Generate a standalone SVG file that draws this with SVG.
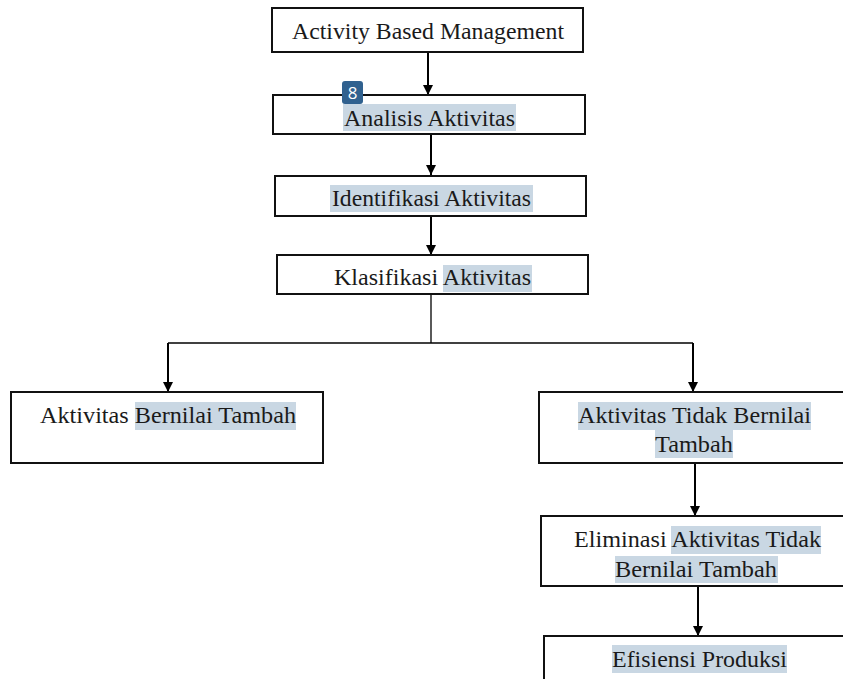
<svg xmlns="http://www.w3.org/2000/svg" width="843" height="679" viewBox="0 0 843 679">
<defs>
<marker id="ah" markerWidth="12" markerHeight="12" refX="10" refY="5" orient="auto" markerUnits="userSpaceOnUse">
<path d="M0,0 L10,5 L0,10 Z" fill="#000"/>
</marker>
<style>
.box{fill:#fff;stroke:#111;stroke-width:2}
.t{font-family:"Liberation Serif","Times New Roman",serif;font-size:23px;fill:#1a1a1a}
.hl{fill:#c9d7e3}
.ln{stroke:#000;stroke-width:2;fill:none}
</style>
</defs>
<rect width="843" height="679" fill="#fff"/>
<g id="connectors">
<line class="ln" x1="428" y1="52" x2="428" y2="95" marker-end="url(#ah)"/>
<line class="ln" x1="431" y1="134" x2="431" y2="175" marker-end="url(#ah)"/>
<line class="ln" x1="431" y1="216" x2="431" y2="255" marker-end="url(#ah)"/>
<line x1="431" y1="294" x2="431" y2="343" stroke="#000" stroke-width="1.3"/>
<line x1="168" y1="343" x2="693" y2="343" stroke="#000" stroke-width="1.5"/>
<line class="ln" x1="168" y1="343" x2="168" y2="392" marker-end="url(#ah)"/>
<line class="ln" x1="693" y1="343" x2="693" y2="392" marker-end="url(#ah)"/>
<line class="ln" x1="695" y1="463" x2="695" y2="516" marker-end="url(#ah)"/>
<line class="ln" x1="698" y1="586" x2="698" y2="636" marker-end="url(#ah)"/>
</g>
<g id="n1">
<rect class="box" x="272" y="8" width="311" height="44"/>
<text class="t" x="292" y="39" textLength="272" lengthAdjust="spacingAndGlyphs">Activity Based Management</text>
</g>
<g id="n2">
<rect class="box" x="273" y="95" width="312" height="39"/>
<rect class="hl" x="343" y="104" width="173" height="27"/>
<text class="t" x="344" y="126" textLength="171" lengthAdjust="spacingAndGlyphs">Analisis Aktivitas</text>
</g>
<g id="badge">
<rect x="342" y="81" width="21" height="23" rx="3" fill="#30618f"/>
<text x="352.5" y="99" text-anchor="middle" font-family="'Open Sans','DejaVu Sans',sans-serif" font-size="17" fill="#fff">8</text>
</g>
<g id="n3">
<rect class="box" x="275" y="176" width="311" height="40"/>
<rect class="hl" x="330" y="185" width="203" height="27"/>
<text class="t" x="332" y="206" textLength="199" lengthAdjust="spacingAndGlyphs">Identifikasi Aktivitas</text>
</g>
<g id="n4">
<rect class="box" x="277" y="255" width="311" height="39"/>
<rect class="hl" x="443" y="265" width="89" height="27"/>
<text class="t" x="334" y="285" textLength="197" lengthAdjust="spacingAndGlyphs">Klasifikasi Aktivitas</text>
</g>
<g id="n5">
<rect class="box" x="11" y="392" width="312" height="71"/>
<rect class="hl" x="135" y="402" width="161" height="28"/>
<text class="t" x="40" y="423" textLength="256" lengthAdjust="spacingAndGlyphs">Aktivitas Bernilai Tambah</text>
</g>
<g id="n6">
<rect class="box" x="539" y="392" width="310" height="71"/>
<rect class="hl" x="578" y="402" width="233" height="28"/>
<rect class="hl" x="655" y="430" width="78" height="28"/>
<text class="t" x="578" y="423" textLength="233" lengthAdjust="spacingAndGlyphs">Aktivitas Tidak Bernilai</text>
<text class="t" x="655" y="452" textLength="78" lengthAdjust="spacingAndGlyphs">Tambah</text>
</g>
<g id="n7">
<rect class="box" x="541" y="516" width="308" height="70"/>
<rect class="hl" x="671" y="526" width="150" height="28"/>
<rect class="hl" x="615" y="556" width="163" height="27"/>
<text class="t" x="574" y="547" textLength="247" lengthAdjust="spacingAndGlyphs">Eliminasi Aktivitas Tidak</text>
<text class="t" x="615" y="577" textLength="162" lengthAdjust="spacingAndGlyphs">Bernilai Tambah</text>
</g>
<g id="n8">
<rect class="box" x="544" y="636" width="310" height="60"/>
<rect class="hl" x="612" y="645" width="175" height="28"/>
<text class="t" x="612" y="667" textLength="175" lengthAdjust="spacingAndGlyphs">Efisiensi Produksi</text>
</g>
</svg>
